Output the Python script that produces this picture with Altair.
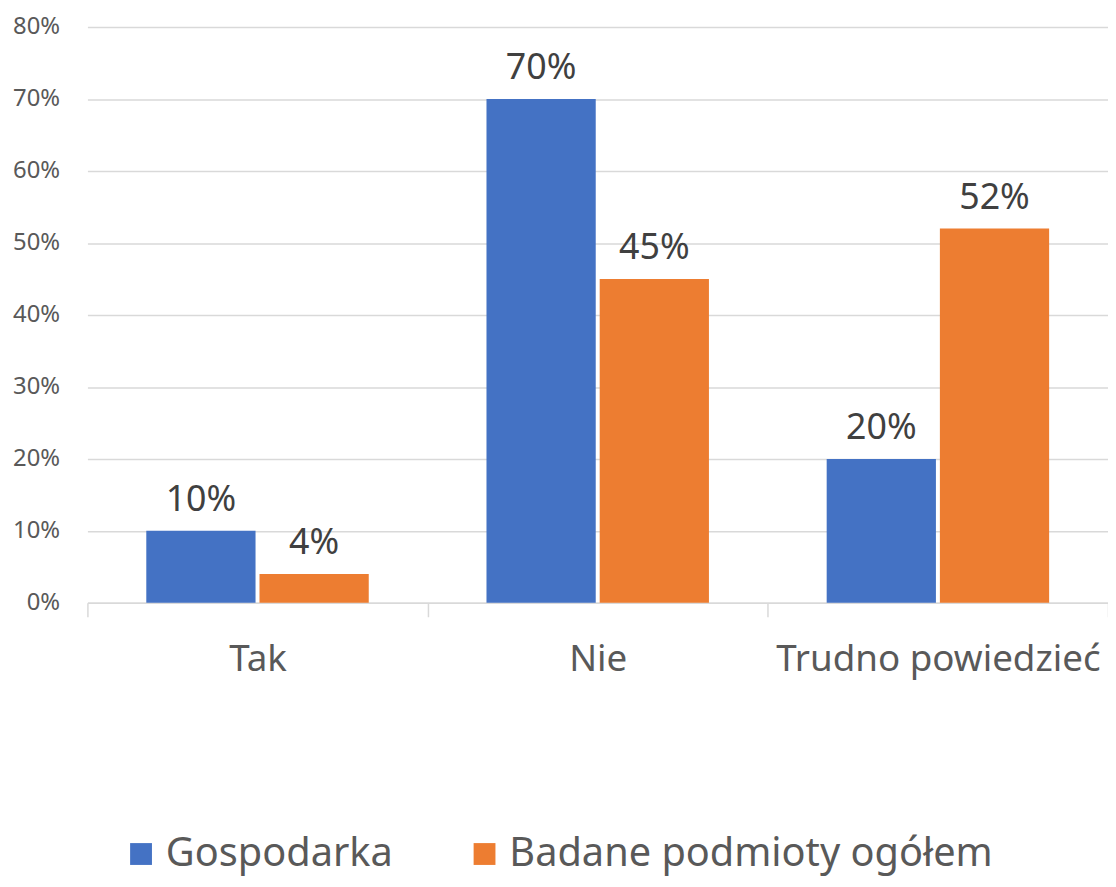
import altair as alt
import pandas as pd

categories = ["Tak", "Nie", "Trudno powiedzieć"]
series_names = ["Gospodarka", "Badane podmioty ogółem"]
gospodarka = [0.10, 0.70, 0.20]
badane = [0.04, 0.45, 0.52]
y_ticks = [0, 0.1, 0.2, 0.3, 0.4, 0.5, 0.6, 0.7, 0.8]
colors = ["#4472C4", "#ED7D31"]

rows = []
for c, v in zip(categories, gospodarka):
    rows.append({"category": c, "series": series_names[0], "value": v})
for c, v in zip(categories, badane):
    rows.append({"category": c, "series": series_names[1], "value": v})
df = pd.DataFrame(rows)

FONT = "Noto Sans"

x_enc = alt.X(
    "category:N",
    sort=categories,
    scale=alt.Scale(paddingInner=0, paddingOuter=0),
    axis=alt.Axis(
        title=None,
        labelAngle=0,
        tickBand="extent",
        domainColor="#D9D9D9",
        domainWidth=1.5,
        tickColor="#D9D9D9",
        tickWidth=1.5,
        tickSize=14,
        labelFontSize=37,
        labelFont=FONT,
        labelColor="#595959",
        labelPadding=25,
        labelLimit=1000,
    ),
)
xoff_enc = alt.XOffset(
    "series:N",
    sort=series_names,
    scale=alt.Scale(paddingInner=0.035, paddingOuter=0.52),
)
y_enc = alt.Y(
    "value:Q",
    scale=alt.Scale(domain=[0, 0.8], nice=False),
    axis=alt.Axis(
        title=None,
        values=y_ticks,
        format=".0%",
        domain=False,
        ticks=False,
        grid=True,
        gridColor="#D9D9D9",
        gridWidth=1.5,
        labelFontSize=24,
        labelFont=FONT,
        labelColor="#595959",
        labelPadding=28,
    ),
)

bars = alt.Chart(df).mark_bar().encode(
    x=x_enc,
    xOffset=xoff_enc,
    y=y_enc,
    color=alt.Color(
        "series:N",
        sort=series_names,
        scale=alt.Scale(domain=series_names, range=colors),
        legend=alt.Legend(
            title=None,
            orient="none",
            direction="horizontal",
            legendX=34,
            legendY=813,
            symbolType="square",
            symbolSize=484,
            symbolStrokeWidth=0,
            symbolOpacity=1,
            labelFontSize=40,
            labelFont=FONT,
            labelColor="#595959",
            labelOffset=5,
            columnPadding=72,
            labelLimit=1000,
        ),
    ),
)

labels = alt.Chart(df).mark_text(
    baseline="middle",
    dy=-31,
    fontSize=36,
    font=FONT,
    color="#404040",
).encode(
    x=alt.X("category:N", sort=categories),
    xOffset=alt.XOffset("series:N", sort=series_names),
    y=alt.Y("value:Q"),
    text=alt.Text("value:Q", format=".0%"),
)

chart = (
    alt.layer(bars, labels)
    .properties(
        width=1028,
        height=580,
        padding={"left": 80, "top": 16, "right": 0, "bottom": 275},
        autosize=alt.AutoSizeParams(type="none"),
        background="white",
    )
    .configure_view(stroke=None)
)

chart.save("out.html", embed_options={"renderer": "svg", "actions": False})
